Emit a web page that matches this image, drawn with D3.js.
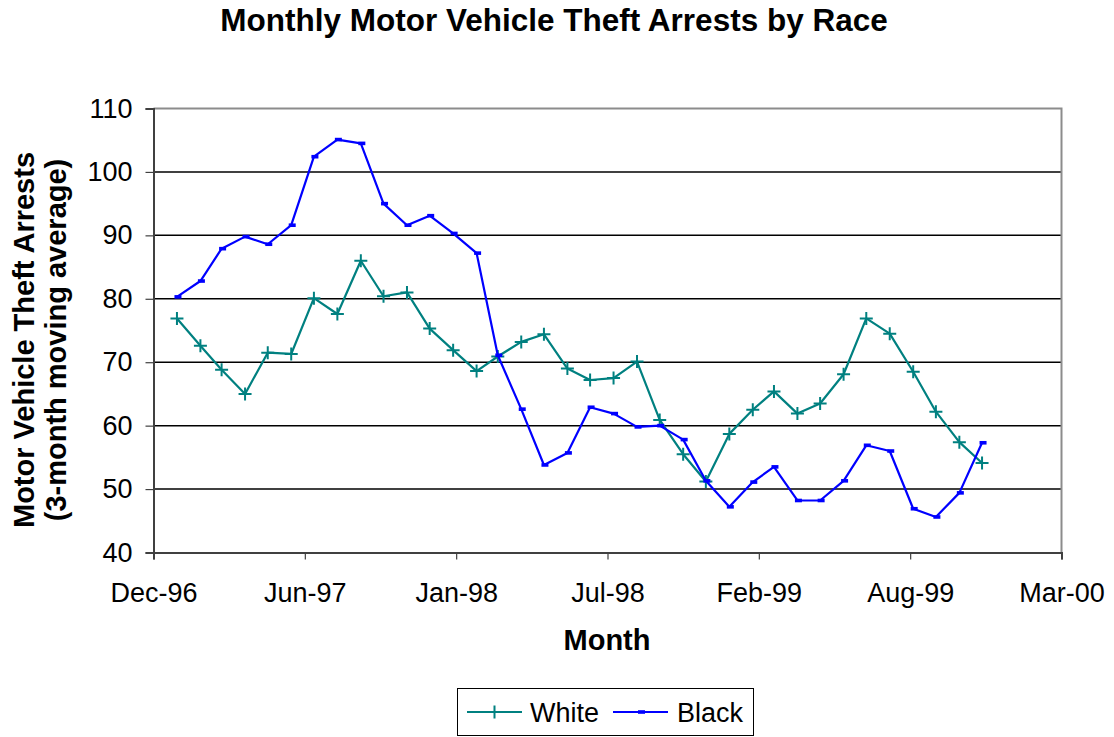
<!DOCTYPE html>
<html>
<head>
<meta charset="utf-8">
<script src="https://cdn.jsdelivr.net/npm/d3@7/dist/d3.min.js"></script>
<style>
  html, body { margin: 0; padding: 0; background: #fff; }
  svg { display: block; font-family: "Liberation Sans", Arial, sans-serif; }
</style>
</head>
<body>
<svg id="chart" width="1114" height="737"></svg>
<script>
// Months covered (first of each month)
const months = [
  "1997-01","1997-02","1997-03","1997-04","1997-05","1997-06",
  "1997-07","1997-08","1997-09","1997-10","1997-11","1997-12",
  "1998-01","1998-02","1998-03","1998-04","1998-05","1998-06",
  "1998-07","1998-08","1998-09","1998-10","1998-11","1998-12",
  "1999-01","1999-02","1999-03","1999-04","1999-05","1999-06",
  "1999-07","1999-08","1999-09","1999-10","1999-11","1999-12"
];

// 3-month moving averages of motor vehicle theft arrests
const white = [
  76.9, 72.6, 68.8, 65.0, 71.5, 71.3, 80.1, 77.6, 86.0, 80.4, 81.0, 75.3,
  71.9, 68.6, 70.9, 73.2, 74.4, 69.0, 67.2, 67.5, 70.1, 60.9, 55.5, 51.2,
  58.7, 62.5, 65.4, 61.9, 63.5, 68.1, 76.9, 74.5, 68.5, 62.2, 57.4, 54.1
];
const black = [
  80.3, 82.8, 87.9, 89.8, 88.6, 91.6, 102.4, 105.1, 104.5, 95.0, 91.6, 93.1,
  90.3, 87.2, 71.1, 62.6, 53.8, 55.7, 62.9, 61.9, 59.8, 60.0, 57.8, 51.3,
  47.2, 51.1, 53.5, 48.2, 48.2, 51.3, 56.9, 56.0, 46.9, 45.6, 49.4, 57.3
];

// Axis settings
const xDomain = ["1996-12-01", "2000-03-15"];
const xTicks = ["1996-12-01","1997-06-19","1998-01-05","1998-07-24","1999-02-09","1999-08-28","2000-03-15"];
const yDomain = [40, 110];
const yTicks = [40, 50, 60, 70, 80, 90, 100, 110];

const seriesNames = ["White", "Black"];
const colors = { White: "#008080", Black: "#0000FF" };

const svg = d3.select("#chart");
const plot = { left: 153.5, right: 1061.5, top: 108.5, bottom: 552.5 };
const tickFont = 27;
const titleFont = 29;

const parseDay = d3.utcParse("%Y-%m-%d");
const parseMonth = d3.utcParse("%Y-%m");

const x = d3.scaleUtc()
  .domain(xDomain.map(parseDay))
  .range([plot.left, plot.right]);
const y = d3.scaleLinear()
  .domain(yDomain)
  .range([plot.bottom, plot.top]);

// Title
svg.append("text")
  .attr("x", 554).attr("y", 31)
  .attr("text-anchor", "middle")
  .attr("font-weight", "bold")
  .attr("font-size", 31.5)
  .text("Monthly Motor Vehicle Theft Arrests by Race");

// Horizontal gridlines
svg.append("g")
  .selectAll("line")
  .data(yTicks.filter(v => v > yDomain[0] && v < yDomain[1]))
  .join("line")
  .attr("x1", plot.left).attr("x2", plot.right)
  .attr("y1", d => y(d)).attr("y2", d => y(d))
  .attr("stroke", "#000").attr("stroke-width", 1.5);

// Plot-area border (top and right)
svg.append("path")
  .attr("d", `M${plot.left},${plot.top}H${plot.right}V${plot.bottom}`)
  .attr("fill", "none").attr("stroke", "#8c8c8c").attr("stroke-width", 2);

// Y axis
const yAxis = d3.axisLeft(y).tickValues(yTicks).tickSize(8).tickPadding(13).tickFormat(d3.format("d"));
const gy = svg.append("g").attr("transform", `translate(${plot.left},0)`).call(yAxis);
gy.select(".domain").attr("stroke", "#404040").attr("stroke-width", 2);
gy.selectAll(".tick line").attr("stroke", "#404040").attr("stroke-width", 1.2);
gy.selectAll(".tick text").attr("font-size", tickFont).attr("font-family", "Liberation Sans, Arial, sans-serif").attr("fill", "#000");

// X axis
const xAxis = d3.axisBottom(x).tickValues(xTicks.map(parseDay)).tickSize(7).tickPadding(23)
  .tickFormat(d3.utcFormat("%b-%y"));
const gx = svg.append("g").attr("transform", `translate(0,${plot.bottom})`).call(xAxis);
gx.select(".domain").attr("stroke", "#404040").attr("stroke-width", 2);
gx.selectAll(".tick line").attr("stroke", "#404040").attr("stroke-width", 1.2);
gx.selectAll(".tick text").attr("font-size", tickFont).attr("font-family", "Liberation Sans, Arial, sans-serif").attr("fill", "#000");

// Axis titles
svg.append("text")
  .attr("x", 607).attr("y", 650)
  .attr("text-anchor", "middle").attr("font-weight", "bold").attr("font-size", titleFont)
  .text("Month");

const yTitle = svg.append("text")
  .attr("transform", "translate(0,340) rotate(-90)")
  .attr("text-anchor", "middle").attr("font-weight", "bold").attr("font-size", titleFont);
yTitle.append("tspan").attr("x", 0).attr("y", 34).text("Motor Vehicle Theft Arrests");
yTitle.append("tspan").attr("x", 0).attr("y", 66).text("(3-month moving average)");

// Series
const dates = months.map(parseMonth);
const seriesData = {
  White: white.map((v, i) => ({ date: dates[i], value: v })),
  Black: black.map((v, i) => ({ date: dates[i], value: v }))
};

const line = d3.line().x(d => x(d.date)).y(d => y(d.value));

function drawMarker(sel, name, cx, cy) {
  if (name === "White") {
    sel.append("path")
      .attr("d", `M${cx - 6.5},${cy}H${cx + 6.5}M${cx},${cy - 6.5}V${cy + 6.5}`)
      .attr("stroke", colors.White).attr("stroke-width", 2).attr("fill", "none");
  } else {
    sel.append("rect")
      .attr("x", cx - 2.5).attr("y", cy - 1.8).attr("width", 7).attr("height", 3.6)
      .attr("fill", colors.Black);
  }
}

seriesNames.forEach(name => {
  const g = svg.append("g");
  g.append("path")
    .datum(seriesData[name])
    .attr("d", line)
    .attr("fill", "none")
    .attr("stroke", colors[name])
    .attr("stroke-width", 2.2)
    .attr("stroke-linejoin", "round");
  seriesData[name].forEach(d => drawMarker(g, name, x(d.date), y(d.value)));
});

// Legend
const legend = svg.append("g");
legend.append("rect")
  .attr("x", 457.5).attr("y", 688.5).attr("width", 296).attr("height", 47)
  .attr("fill", "#fff").attr("stroke", "#000").attr("stroke-width", 1);
const legendItems = [
  { name: "White", x1: 467, x2: 522, tx: 530 },
  { name: "Black", x1: 613, x2: 668, tx: 677 }
];
legendItems.forEach(it => {
  const ly = 712;
  legend.append("line")
    .attr("x1", it.x1).attr("x2", it.x2).attr("y1", ly).attr("y2", ly)
    .attr("stroke", colors[it.name]).attr("stroke-width", 2);
  drawMarker(legend, it.name, (it.x1 + it.x2) / 2, ly);
  legend.append("text")
    .attr("x", it.tx).attr("y", ly + 10)
    .attr("font-size", tickFont)
    .text(it.name);
});
</script>
</body>
</html>
